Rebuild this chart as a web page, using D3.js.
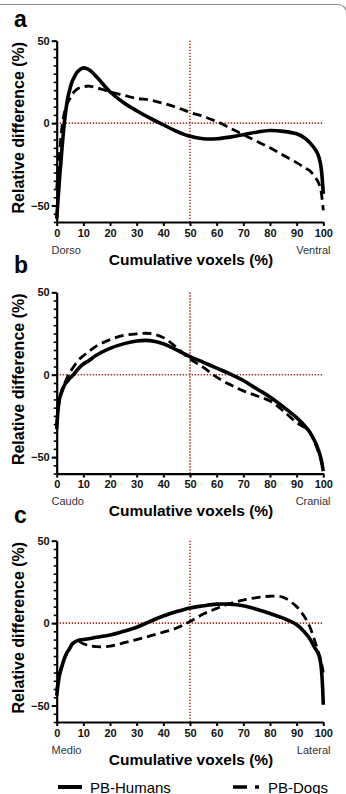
<!DOCTYPE html>
<html>
<head>
<meta charset="utf-8">
<script src="https://cdn.jsdelivr.net/npm/d3@7"></script>
<style>
  body { margin: 0; background: #fff; }
  svg { display: block; font-family: "Liberation Sans", Arial, sans-serif; }
</style>
</head>
<body>
<div id="chart"></div>
<script>
// x grid shared by every curve (cumulative voxels, %)
var voxels = [0,1,2,3,4,5,6,8,10,12,15,20,25,30,35,40,45,50,55,60,65,70,75,80,85,90,93,95,97,98,99,100];

// panel a - dorso / ventral
var humansA = [-58,-35,-15,2,14,21,26,31.5,33.5,32.5,28,19,12.5,7.5,3,-1,-5,-8,-9.5,-9.5,-8.5,-7,-5.5,-4.5,-5,-6.5,-9,-12,-16,-19,-25,-43];
var dogsA   = [-40,-20,-2,7,12,15,18,21,22,22.5,21.5,19,17,15,14,12,9.5,6.5,4,1,-3,-7,-11,-15,-19.5,-24,-27,-29,-33,-35.5,-40,-53];

// panel b - caudo / cranial
var humansB = [-33,-15,-10,-6,-4,-2,-0.5,3.5,6.5,8.5,12,16,18.7,20.5,20.7,18.8,15,11,7.5,4,0.5,-3.5,-8.5,-13.5,-19.5,-26,-31,-35,-41,-45,-50,-58.5];
var dogsB   = [-30,-16,-9,-5,-1.5,1.5,4,8.5,11.5,14,17.5,21.3,23.8,24.8,25,22.5,16.5,9.5,4.5,-1.5,-6,-9.8,-12.8,-16,-22,-29,-32,-35,-42,-46,-51,-57];

// panel c - medio / lateral
var humansC = [-44,-32,-26,-21,-17.5,-15,-12.5,-10.5,-10,-9.5,-8.6,-7.2,-5,-2.5,1,4.3,7,9.2,10.5,11.5,11.5,10.5,8.4,5.8,3,-1,-5.5,-9.6,-15.5,-18,-24,-49.5];
var dogsC   = [-40,-31,-25,-21,-18,-15,-12,-11,-12.5,-13.5,-14.3,-14,-12,-10,-7.8,-5.5,-3,1,5.5,8.9,11.9,14,15.4,16.3,15.6,10,3.7,-2.5,-11.7,-17,-22,-30];

var panelLetters = ["a", "b", "c"];
var leftLabels = ["Dorso", "Caudo", "Medio"];
var rightLabels = ["Ventral", "Cranial", "Lateral"];
var xTicks = [0,10,20,30,40,50,60,70,80,90,100];
var yTicks = [-50, 0, 50];
var seriesNames = ["PB-Humans", "PB-Dogs"];

var humans = [humansA, humansB, humansC];
var dogs = [dogsA, dogsB, dogsC];

let width = 346, height = 794;
let left = 56.7, right = 323.3;
let panelTops = [40.7, 292.3, 540.7];
let letterY = [27, 273, 523];
let plotH = 181.3;
let red = "#a8342c";

let svg = d3.select("#chart").append("svg")
    .attr("width", width)
    .attr("height", height);

// faint frame of the figure (only its top edge shows)
svg.append("rect")
    .attr("x", -8).attr("y", 4.5)
    .attr("width", 354.8).attr("height", 820)
    .attr("rx", 9)
    .attr("fill", "none")
    .attr("stroke", "#8a8a8a")
    .attr("stroke-width", 1.2);

let x = d3.scaleLinear().domain([0, 100]).range([left, right]);

panelLetters.forEach(function (letter, i) {
    let top = panelTops[i];
    let y = d3.scaleLinear().domain([-60, 50]).range([top + plotH, top]);
    let g = svg.append("g");

    // dotted reference lines
    g.append("line")
        .attr("x1", x(0)).attr("x2", x(100))
        .attr("y1", y(0)).attr("y2", y(0))
        .attr("stroke", red).attr("stroke-width", 1.6)
        .attr("stroke-dasharray", "1.4 1.6");
    g.append("line")
        .attr("x1", x(50)).attr("x2", x(50))
        .attr("y1", y(50)).attr("y2", y(-60))
        .attr("stroke", red).attr("stroke-width", 1.6)
        .attr("stroke-dasharray", "1.4 1.6");

    let line = d3.line()
        .x(function (d, k) { return x(voxels[k]); })
        .y(function (d) { return y(d); })
        .curve(d3.curveCatmullRom.alpha(0.5));

    g.append("path")
        .datum(dogs[i])
        .attr("d", line)
        .attr("fill", "none")
        .attr("stroke", "#000")
        .attr("stroke-width", 2.8)
        .attr("stroke-dasharray", "9 5");

    g.append("path")
        .datum(humans[i])
        .attr("d", line)
        .attr("fill", "none")
        .attr("stroke", "#000")
        .attr("stroke-width", 3.6)
        .attr("stroke-linejoin", "round");

    // minor y ticks
    g.append("g")
        .attr("transform", "translate(" + left + ",0)")
        .call(d3.axisLeft(y).tickValues(d3.range(-60, 51, 5)).tickSize(3).tickSizeOuter(0).tickFormat(""))
        .call(function (a) { a.select(".domain").remove(); })
        .selectAll("line").attr("stroke-width", 1.6);

    // y axis
    let ya = g.append("g")
        .attr("transform", "translate(" + left + ",0)")
        .call(d3.axisLeft(y).tickValues(yTicks).tickSize(5).tickSizeOuter(0).tickPadding(2));
    ya.select(".domain").attr("stroke-width", 2.2);
    ya.selectAll("line").attr("stroke-width", 2);
    ya.selectAll("text").attr("font-size", 11).attr("font-weight", "bold")
        .attr("font-family", "Liberation Sans, Arial, sans-serif").attr("fill", "#111");

    // x axis
    let xa = g.append("g")
        .attr("transform", "translate(0," + y(-60) + ")")
        .call(d3.axisBottom(x).tickValues(xTicks).tickSize(4).tickSizeOuter(0).tickPadding(3));
    xa.select(".domain").attr("stroke-width", 2.2);
    xa.selectAll("line").attr("stroke-width", 2);
    xa.selectAll("text").attr("font-size", 11).attr("font-weight", "bold")
        .attr("font-family", "Liberation Sans, Arial, sans-serif").attr("fill", "#111");

    let base = y(-60);

    g.append("text")
        .attr("x", 51.5).attr("y", base + 31.5)
        .attr("font-size", 11).attr("fill", "#333")
        .text(leftLabels[i]);
    g.append("text")
        .attr("x", 330.5).attr("y", base + 31.5)
        .attr("text-anchor", "end")
        .attr("font-size", 11).attr("fill", "#333")
        .text(rightLabels[i]);

    g.append("text")
        .attr("x", 191).attr("y", base + 42.5)
        .attr("text-anchor", "middle")
        .attr("font-size", 15.5).attr("font-weight", "bold")
        .text("Cumulative voxels (%)");

    g.append("text")
        .attr("transform", "translate(23.5," + (top + 87) + ") rotate(-90)")
        .attr("text-anchor", "middle")
        .attr("font-size", 16).attr("font-weight", "bold")
        .text("Relative difference (%)");

    g.append("text")
        .attr("x", 14).attr("y", letterY[i])
        .attr("font-size", 23).attr("font-weight", "bold")
        .text(letter);
});

// legend
let lg = svg.append("g").attr("transform", "translate(0,787)");
lg.append("line")
    .attr("x1", 58).attr("x2", 82).attr("y1", 0).attr("y2", 0)
    .attr("stroke", "#000").attr("stroke-width", 4);
lg.append("text").attr("x", 90).attr("y", 5.5)
    .attr("font-size", 15).text(seriesNames[0]);
lg.append("line")
    .attr("x1", 233).attr("x2", 260).attr("y1", 0).attr("y2", 0)
    .attr("stroke", "#000").attr("stroke-width", 3.6)
    .attr("stroke-dasharray", "14 8 4 20");
lg.append("text").attr("x", 268).attr("y", 5.5)
    .attr("font-size", 15).text(seriesNames[1]);
</script>
</body>
</html>
